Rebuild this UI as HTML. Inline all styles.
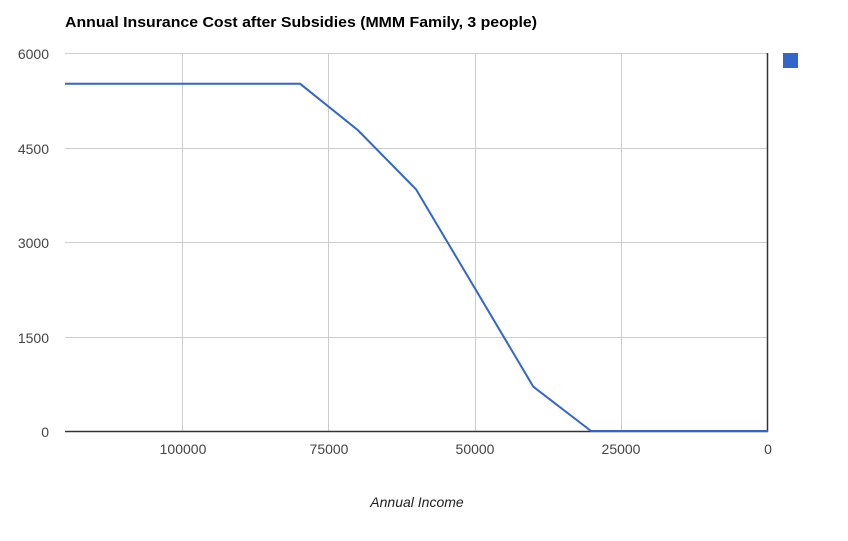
<!DOCTYPE html>
<html>
<head>
<meta charset="utf-8">
<style>
html,body{margin:0;padding:0;background:#fff;}
svg{display:block;}
text{font-family:"Liberation Sans",Arial,sans-serif;}
</style>
</head>
<body>
<svg width="848" height="541" viewBox="0 0 848 541" xmlns="http://www.w3.org/2000/svg">
  <rect x="0" y="0" width="848" height="541" fill="#fff"/>
  <!-- title -->
  <text x="65" y="27" font-size="15" font-weight="bold" fill="#000" textLength="472" lengthAdjust="spacingAndGlyphs">Annual Insurance Cost after Subsidies (MMM Family, 3 people)</text>
  <!-- horizontal gridlines -->
  <g stroke="#cccccc" stroke-width="1">
    <line x1="65" y1="53.5" x2="768" y2="53.5"/>
    <line x1="65" y1="148.5" x2="768" y2="148.5"/>
    <line x1="65" y1="242.5" x2="768" y2="242.5"/>
    <line x1="65" y1="337.5" x2="768" y2="337.5"/>
    <!-- vertical gridlines -->
    <line x1="182.5" y1="54" x2="182.5" y2="431"/>
    <line x1="328.5" y1="54" x2="328.5" y2="431"/>
    <line x1="475.5" y1="54" x2="475.5" y2="431"/>
    <line x1="621.5" y1="54" x2="621.5" y2="431"/>
  </g>
  <!-- axes -->
  <line x1="65" y1="431.5" x2="768" y2="431.5" stroke="#333" stroke-width="1.5"/>
  <line x1="767.5" y1="53" x2="767.5" y2="432" stroke="#333" stroke-width="1.5"/>
  <!-- series -->
  <polyline fill="none" stroke="#3366cc" stroke-width="2" stroke-linejoin="round"
    points="65,83.7 300,83.7 357.7,130 416,189.3 475,288.5 533.3,386.7 591,431 768,431"/>
  <!-- y labels -->
  <g font-size="14" fill="#444" text-anchor="end">
    <text x="49" y="59">6000</text>
    <text x="49" y="154">4500</text>
    <text x="49" y="248">3000</text>
    <text x="49" y="343">1500</text>
    <text x="49" y="437">0</text>
  </g>
  <!-- x labels -->
  <g font-size="14" fill="#444" text-anchor="middle">
    <text x="183" y="454">100000</text>
    <text x="329" y="454">75000</text>
    <text x="475" y="454">50000</text>
    <text x="621" y="454">25000</text>
    <text x="768" y="454">0</text>
  </g>
  <text x="417" y="507" font-size="14" font-style="italic" fill="#222" text-anchor="middle">Annual Income</text>
  <!-- legend -->
  <rect x="783" y="53" width="15" height="15" fill="#3366cc"/>
</svg>
</body>
</html>
